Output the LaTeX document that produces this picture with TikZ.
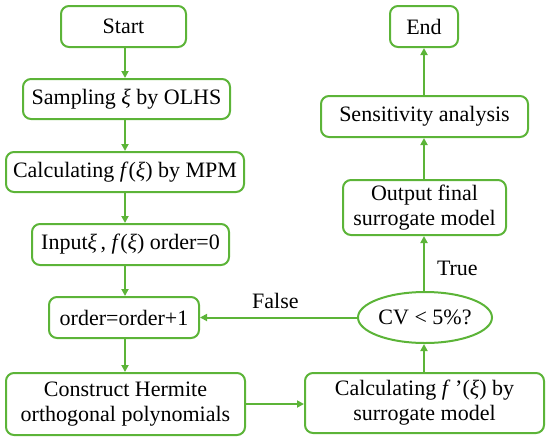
\documentclass[tikz,border=0pt]{standalone}
\usepackage{fontspec}
\setmainfont{Liberation Serif}
\usetikzlibrary{arrows.meta,shapes.geometric}
\definecolor{fg}{RGB}{92,180,56}
\tikzset{
  box/.style={draw=fg, line width=2pt, rounded corners=8pt, align=center, inner sep=0pt,
    font=\fontsize{22}{25}\selectfont},
  oval/.style={draw=fg, line width=2pt, ellipse, inner sep=0pt, font=\fontsize{22}{25}\selectfont},
  arr/.style={draw=fg, line width=2pt, -{Triangle[length=7pt,width=7pt]}},
  lbl/.style={font=\fontsize{22}{25}\selectfont, inner sep=0pt}
}
\begin{document}
\begin{tikzpicture}[x=1pt,y=-1pt]
\useasboundingbox (0,0) rectangle (550,440);
\coordinate (colL) at (125,0);
\coordinate (colR) at (424,0);
\node[box, minimum width=125pt, minimum height=41pt] (start) at (123.5,26.5) {Start};
\node[box, minimum width=207pt, minimum height=40pt] (samp) at (126.5,99) {Sampling \textit{ξ} by OLHS};
\node[box, minimum width=238pt, minimum height=40pt] (calc) at (125,172) {Calculating \textit{f}(\textit{ξ}) by MPM};
\node[box, minimum width=197pt, minimum height=41pt] (input) at (130.5,244.5) {Input\textit{ξ}\,, \textit{f}(\textit{ξ}) order=0};
\node[box, minimum width=150pt, minimum height=41pt] (ord) at (124,317.5) {order=order+1};
\node[box, minimum width=239pt, minimum height=62pt] (cons) at (125.5,404) {Construct Hermite\\orthogonal polynomials};
\node[box, minimum width=68pt, minimum height=41pt] (end) at (424,26.5) {End};
\node[box, minimum width=207pt, minimum height=41pt] (sens) at (424.5,116.5) {Sensitivity analysis};
\node[box, minimum width=163pt, minimum height=55pt] (out) at (424.5,207.5) {Output final\\surrogate model};
\node[oval, minimum width=134pt, minimum height=51pt] (cv) at (425,317.5) {CV < 5\%?};
\node[box, minimum width=239pt, minimum height=60pt] (calc2) at (424.5,403) {Calculating \textit{f\,}\,’(\textit{ξ}) by\\surrogate model};
\draw[arr] (start.south -| colL) -- (samp.north -| colL);
\draw[arr] (samp.south -| colL) -- (calc.north -| colL);
\draw[arr] (calc.south -| colL) -- (input.north -| colL);
\draw[arr] (input.south -| colL) -- (ord.north -| colL);
\draw[arr] (ord.south -| colL) -- (cons.north -| colL);
\draw[arr] (cons.east) -- (cons.east -| calc2.west);
\draw[arr] (calc2.north -| colR) -- (cv.south -| colR);
\draw[arr] (cv.north -| colR) -- node[lbl, right=12pt, pos=0.42] (tl) {True} (out.south -| colR);
\draw[arr] (out.north -| colR) -- (sens.south -| colR);
\draw[arr] (sens.north -| colR) -- (end.south -| colR);
\draw[arr] (cv.west) -- node[lbl, above=8pt, pos=0.52] (fl) {False} (ord.east);
\end{tikzpicture}
\end{document}
